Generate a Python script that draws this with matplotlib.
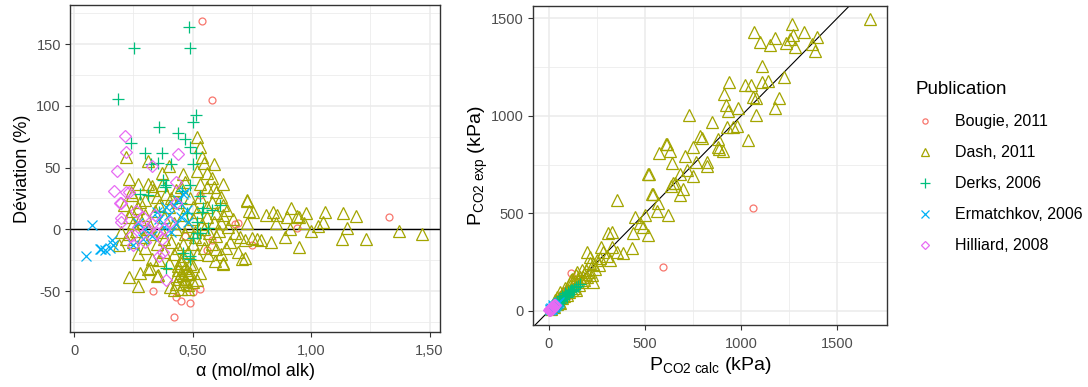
import matplotlib
matplotlib.use("Agg")
import matplotlib.pyplot as plt
from matplotlib.lines import Line2D
from matplotlib.ticker import FixedLocator, FuncFormatter

plt.rcParams['font.family'] = ['Liberation Sans', 'DejaVu Sans']
plt.rcParams['mathtext.fontset'] = 'custom'
plt.rcParams['mathtext.rm'] = 'Liberation Sans'
plt.rcParams['mathtext.it'] = 'Liberation Sans'
plt.rcParams['axes.unicode_minus'] = False

publications = ["Bougie, 2011", "Dash, 2011", "Derks, 2006", "Ermatchkov, 2006", "Hilliard, 2008"]
colors = ["#F8766D", "#A3A500", "#00BF7D", "#00B0F6", "#E76BF3"]

# ---- Left panel: loading alpha vs deviation (%) ----
bougie_alpha = [0.54, 0.58, 1.33, 0.94, 0.333, 0.43, 0.45, 0.49, 0.42, 0.50, 0.53, 0.69, 0.68, 0.75, 0.58, 0.56, 0.53, 0.47]
bougie_dev = [169, 105, 10, 1, -50, -55, -58, -60, -71, -51, -48, 5, 4, -13, -9, -17, 28, -5]

dash_alpha = [0.52, 0.53, 0.54, 0.55, 0.59, 0.52, 0.56, 0.58, 0.63, 0.22, 0.31, 0.40, 0.37, 0.46, 0.47, 0.23, 0.27, 0.31, 0.33, 0.37,
              0.53, 0.59, 0.24, 0.39, 0.60, 0.73, 0.245, 0.28, 0.333, 0.43, 0.45, 0.56, 0.62, 0.645, 0.60, 0.63, 0.23, 0.56, 0.50,
              0.73, 0.74, 0.755, 0.73, 0.81, 0.84, 0.855, 0.85, 0.915, 0.90, 0.94, 0.95, 0.98, 0.97, 0.91, 0.89, 0.95, 1.00, 1.03,
              1.05, 1.06, 1.135, 1.15, 1.19, 1.13, 1.23, 1.37, 1.47, 0.83, 0.79, 0.77, 0.75, 0.72, 0.69, 0.72, 0.70, 0.63, 0.71,
              0.66, 0.68, 0.65, 0.67, 0.64, 0.62, 0.60, 0.62, 0.58, 0.60,
              0.23, 0.27, 0.28, 0.31, 0.35, 0.405, 0.42, 0.45, 0.50, 0.52, 0.48, 0.47, 0.19, 0.32, 0.355, 0.45, 0.475, 0.53, 0.565,
              0.595, 0.63, 0.33, 0.36, 0.44, 0.46, 0.48, 0.43, 0.45, 0.47, 0.49, 0.44, 0.46, 0.48, 0.44, 0.42, 0.40, 0.38, 0.35,
              0.30, 0.27, 0.25, 0.22, 0.29, 0.33, 0.38, 0.41, 0.50, 0.52, 0.55, 0.54, 0.57,
              0.25, 0.28, 0.30, 0.32, 0.34, 0.36, 0.38, 0.40, 0.42, 0.44, 0.46, 0.48, 0.50, 0.52, 0.54, 0.56, 0.58, 0.27, 0.30,
              0.35, 0.41, 0.49, 0.53, 0.24, 0.21, 0.20, 0.23, 0.26, 0.31, 0.37, 0.43, 0.47, 0.51, 0.55, 0.59, 0.61, 0.63,
              0.44, 0.46, 0.47, 0.45, 0.49, 0.48, 0.50, 0.43, 0.46, 0.51]
dash_dev = [75, 67, 59, 54, 53, 47, 46, 42, 37, 59, 55, 51, 46, 45, 38, 41, 37, 37, 35, 36,
            37, 34, 30, 29, 30, 24, 28, 22, 32, 32, 34, 34, 26, 16, 13, 12, 10, 18, 18,
            23, 15, 14, 5, 12, 14, 12, 5, 17, 10, 11, 10, 13, 5, 0, -6, -14, -1, 3,
            6, 14, 13, 1, 11, -8, -8, -1.5, -4, -10, -9, -8, -7, -23, -18, -9, -6, -27, -24,
            -10, -3, 2, 8, -15, -20, -5, 5, -12, -16,
            -39, -46, -35, -32, -38, -47, -49, -48, -43, -41, -36, -31, -13, -31, -37, -27, -33, -35, -21,
            -26, -28, -24, -25, -40, -44, -45, -38, -35, -40, -28, -30, -22, -18, -15, -20, -27, -18, -12,
            -15, -20, -10, -8, -6, -4, -8, -10, -12, -20, -15, -8, -3,
            5, 8, 12, 3, 15, 20, 10, 18, 5, 22, 12, 3, 8, 14, 4, 10, 22, 17, 24,
            26, 25, 25, 26, 15, 20, -2, -4, -1, 0, -2, 0, -4, -2, 0, 6, -1, 20,
            -33, -37, -42, -25, -35, -48, -30, -44, -12, -6]

derks_alpha = [0.485, 0.49, 0.255, 0.185, 0.515, 0.50, 0.36, 0.44, 0.47, 0.24, 0.49, 0.30, 0.37, 0.515, 0.325, 0.355, 0.41,
               0.50, 0.375, 0.49, 0.455, 0.39, 0.53, 0.615, 0.54, 0.52, 0.53, 0.49, 0.46, 0.39, 0.36, 0.31, 0.28, 0.385,
               0.45, 0.545, 0.58, 0.475, 0.565, 0.50, 0.49, 0.52]
derks_dev = [164, 147, 147, 106, 93, 87, 83, 78, 73, 70, 67, 62, 62, 62, 53, 54, 53,
             53, 40, 36, 31, 36, 27, 20, 14, 6, -3, -22, -19, -31, 14, 28, 29, 34,
             21, 17, 16, 13, 1, -7, -24, -3]

ermat_alpha = [0.076, 0.05, 0.115, 0.13, 0.16, 0.165, 0.15, 0.11, 0.46, 0.475, 0.45, 0.27, 0.25, 0.36, 0.40, 0.38, 0.42,
               0.33, 0.30, 0.44, 0.48, 0.35, 0.41, 0.29, 0.43, 0.47, 0.39]
ermat_dev = [3.5, -22, -16, -17, -9, -13, -15, -16, 29, 16, 10, 5, -13, 8, 12, 2, 20,
             -5, 0, 24, 6, 14, -2, -8, 4, 30, 18]

hill_alpha = [0.215, 0.22, 0.44, 0.33, 0.18, 0.43, 0.17, 0.22, 0.20, 0.23, 0.20, 0.43, 0.35, 0.375, 0.39, 0.36, 0.31, 0.405,
              0.20, 0.195, 0.25, 0.27, 0.29, 0.33, 0.37, 0.24, 0.30, 0.34, 0.38, 0.26]
hill_dev = [76, 63, 61, 51, 47, 38, 31, 30, 21, 30, 6, 21, -3, -18, -41, -22, 0, 6,
            9, 21, -13, 2, 10, 4, -8, -5, -10, 12, 0, 15]

# ---- Right panel: P_CO2 calc vs P_CO2 exp (kPa) ----
bougie_pcalc = [20, 30, 40, 50, 60, 70, 80, 90, 100, 115, 594, 1062, 45, 130]
bougie_pexp = [30, 45, 55, 60, 40, 85, 95, 110, 75, 195, 225, 528, 65, 160]

dash_pcalc = [1672, 1265, 1068, 1328, 1177, 1271, 1099, 1151, 1234, 1255, 1281, 1396, 1370, 1385, 1109, 1224, 937, 1021, 1052,
              1109, 1141, 911, 1062, 1078, 1198, 922, 984, 932, 1177, 1078, 729, 849, 927, 958, 979, 786, 797, 880, 1036, 750,
              615, 573, 630, 708, 880, 885, 906, 641, 766, 823, 823, 521, 682, 750, 719, 646, 635, 698, 536, 682, 354,
              609, 516, 656, 542, 568, 448, 500, 562, 620, 474, 490, 516, 437, 328, 307, 432, 328, 354, 385, 318, 198,
              214, 214, 266, 146, 177, 229, 224,
              10, 20, 25, 30, 40, 45, 50, 60, 55, 70, 75, 80, 90, 95, 100, 105, 110, 120, 125, 130, 135, 140, 150, 155,
              160, 170, 180, 185, 195, 200, 60, 85, 115, 40, 30, 140, 210, 230, 250, 260, 280, 300, 240, 270, 170, 120]
dash_pexp = [1497, 1471, 1430, 1430, 1399, 1414, 1379, 1363, 1374, 1394, 1353, 1404, 1368, 1333, 1256, 1199, 1174, 1158, 1158,
             1174, 1179, 1112, 1097, 1092, 1092, 1056, 1040, 1025, 1040, 1004, 1004, 969, 943, 943, 948, 897, 887, 881, 876, 840,
             856, 810, 820, 794, 840, 830, 820, 758, 764, 764, 743, 702, 702, 692, 723, 656, 641, 625, 600, 594, 569,
             856, 702, 656, 600, 553, 482, 492, 512, 492, 451, 430, 390, 400, 405, 400, 323, 328, 302, 297, 261, 302,
             277, 246, 272, 200, 174, 149, 184,
             12, 25, 18, 40, 35, 55, 45, 70, 40, 65, 90, 75, 100, 80, 110, 95, 130, 105, 140, 120, 155, 110, 160, 135,
             175, 150, 190, 160, 210, 175, 95, 120, 160, 70, 55, 185, 200, 240, 260, 235, 300, 280, 215, 330, 210, 165]

derks_pcalc = [40, 50, 60, 70, 80, 90, 100, 110, 120, 130, 140, 150, 95, 75, 65, 55, 85, 105, 115, 125, 45, 35, 160]
derks_pexp = [45, 55, 55, 75, 70, 80, 95, 100, 105, 115, 125, 130, 70, 60, 50, 40, 90, 85, 110, 100, 30, 35, 140]

ermat_pcalc = [5, 10, 15, 20, 25, 30, 35, 40, 12, 18, 22, 28, 8, 45, 50]
ermat_pexp = [5, 8, 12, 18, 22, 25, 28, 35, 15, 12, 28, 20, 10, 40, 45]

hill_pcalc = [2, 5, 8, 10, 12, 15, 18, 20, 25, 28, 6, 14, 22, 30, 4, 16]
hill_pexp = [3, 6, 8, 12, 10, 15, 20, 18, 25, 30, 4, 18, 22, 28, 8, 12]

left_series = [(bougie_alpha, bougie_dev), (dash_alpha, dash_dev), (derks_alpha, derks_dev),
               (ermat_alpha, ermat_dev), (hill_alpha, hill_dev)]
right_series = [(bougie_pcalc, bougie_pexp), (dash_pcalc, dash_pexp), (derks_pcalc, derks_pexp),
                (ermat_pcalc, ermat_pexp), (hill_pcalc, hill_pexp)]

markers = ['o', '^', '+', 'x', 'D']
msizes = [5.0, 8.0, 9.0, 7.0, 6.0]
mew = 0.9

fig = plt.figure(figsize=(10.88, 3.87), dpi=100)
axL = fig.add_axes([70 / 1088, 55 / 387, 370 / 1088, 327 / 387])
axR = fig.add_axes([533 / 1088, 62 / 387, 354 / 1088, 319.3 / 387])


def style(ax):
    ax.set_facecolor('white')
    for s in ax.spines.values():
        s.set_color('#333333')
        s.set_linewidth(1.0)
    ax.tick_params(axis='both', which='major', length=3.5, width=0.8, color='#333333',
                   labelcolor='#4D4D4D', labelsize=10.5, pad=3)
    ax.tick_params(axis='x', which='major', pad=5)
    ax.tick_params(axis='both', which='minor', length=0)
    ax.grid(True, which='major', color='#EBEBEB', linewidth=1.1, zorder=0)
    ax.grid(True, which='minor', color='#EBEBEB', linewidth=0.55, zorder=0)
    ax.set_axisbelow(True)


# left
style(axL)
axL.axhline(0, color='black', linewidth=1.0, zorder=1)
for (xs, ys), c, m, ms in zip(left_series, colors, markers, msizes):
    axL.plot(xs, ys, linestyle='none', marker=m, markersize=ms, markerfacecolor='none',
             markeredgecolor=c, markeredgewidth=mew, zorder=2)
axL.set_xlim(-0.017, 1.544)
axL.set_ylim(-83.2, 181.8)
axL.xaxis.set_major_locator(FixedLocator([0, 0.5, 1.0, 1.5]))
axL.xaxis.set_minor_locator(FixedLocator([0.25, 0.75, 1.25]))
axL.xaxis.set_major_formatter(FuncFormatter(lambda v, p: "0" if abs(v) < 1e-9 else f"{v:.2f}".replace('.', ',')))
axL.yaxis.set_major_locator(FixedLocator([-50, 0, 50, 100, 150]))
axL.yaxis.set_minor_locator(FixedLocator([-75, -25, 25, 75, 125, 175]))
axL.set_xlabel("α (mol/mol alk)", fontsize=13, labelpad=4)
axL.set_ylabel("Déviation (%)", fontsize=13, labelpad=4)

# right
style(axR)
axR.set_xlim(-83, 1760)
axR.set_ylim(-72, 1565)
axR.axline((0, 0), slope=1, color='black', linewidth=0.8, zorder=1)
for (xs, ys), c, m, ms in zip(right_series, colors, markers, msizes):
    axR.plot(xs, ys, linestyle='none', marker=m, markersize=ms, markerfacecolor='none',
             markeredgecolor=c, markeredgewidth=mew, zorder=2)
axR.xaxis.set_major_locator(FixedLocator([0, 500, 1000, 1500]))
axR.xaxis.set_minor_locator(FixedLocator([250, 750, 1250]))
axR.yaxis.set_major_locator(FixedLocator([0, 500, 1000, 1500]))
axR.yaxis.set_minor_locator(FixedLocator([250, 750, 1250]))
axR.set_xlabel(r"$\mathrm{P_{CO2\ calc}}$ (kPa)", fontsize=14, labelpad=3)
axR.set_ylabel(r"$\mathrm{P_{CO2\ exp}}$ (kPa)", fontsize=14, labelpad=1)

# legend
handles = [Line2D([], [], linestyle='none', marker=m, markersize=ms * 0.75, markerfacecolor='none',
                  markeredgecolor=c, markeredgewidth=mew) for c, m, ms in zip(colors, markers, msizes)]
leg = fig.legend(handles, publications, loc='upper left', bbox_to_anchor=(909 / 1088, 1 - 75 / 387),
                 frameon=False, fontsize=11.5, title="Publication", title_fontsize=13.5,
                 labelspacing=1.0, handletextpad=1.3, handlelength=1.2, borderaxespad=0)
leg._legend_box.align = "left"

fig.savefig("out.png", dpi=100)
